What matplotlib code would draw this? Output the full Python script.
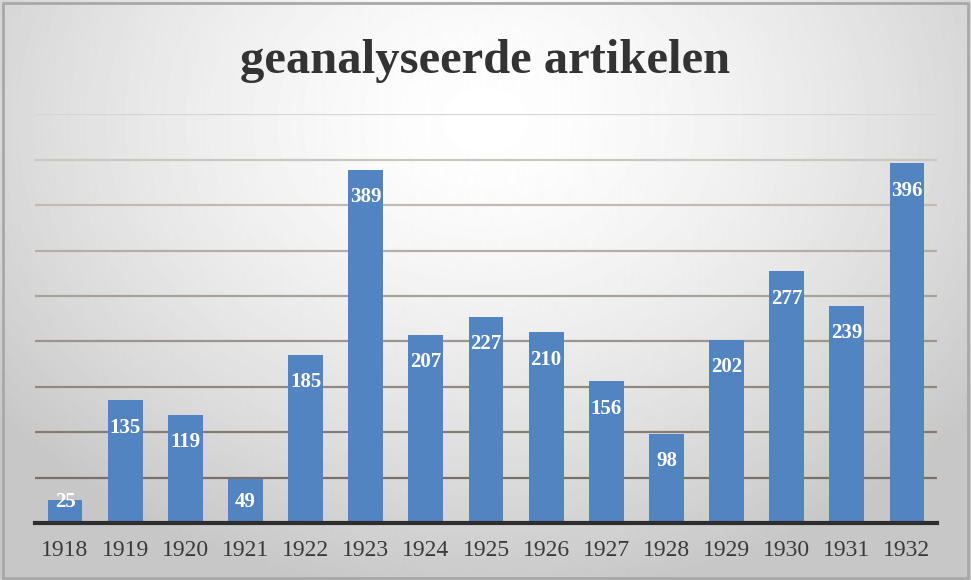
import numpy as np
import matplotlib
matplotlib.use("Agg")
import matplotlib.pyplot as plt

years = ["1918", "1919", "1920", "1921", "1922", "1923", "1924", "1925",
         "1926", "1927", "1928", "1929", "1930", "1931", "1932"]
articles = [25, 135, 119, 49, 185, 389, 207, 227, 210, 156, 98, 202, 277, 239, 396]
title = "geanalyseerde artikelen"

fig = plt.figure(figsize=(9.71, 5.8), dpi=100)

# radial grey background
bg = fig.add_axes([0, 0, 1, 1], zorder=0)
yy, xx = np.mgrid[0:580, 0:971]
r = np.sqrt(((xx - 485) / 620.0) ** 2 + ((yy - 120) / 480.0) ** 2)
shade = np.clip(1.0 - 0.22 * r ** 1.5, 0.78, 1.0)
bg.imshow(shade, cmap="gray", vmin=0, vmax=1, aspect="auto", extent=[0, 1, 0, 1])
bg.plot([0.003, 0.997, 0.997, 0.003, 0.003], [0.003, 0.003, 0.995, 0.995, 0.003],
        color="#a8a8a8", lw=2)
bg.set_xlim(0, 1)
bg.set_ylim(0, 1)
bg.axis("off")

ax = fig.add_axes([0.036, 0.098, 0.929, 0.705], zorder=1)
ax.patch.set_alpha(0)
x = np.arange(len(years))
ax.bar(x, articles, width=0.58, color="#5384c2", zorder=3)

for xi, v in zip(x, articles):
    ax.text(xi, max(v - 30, 23), str(v), ha="center", va="center",
            color="white", fontsize=15, fontweight="bold",
            family="Liberation Serif", zorder=4)

ax.set_xlim(-0.5, len(years) - 0.5)
ax.set_ylim(0, 450)

# grid lines fade from dark at the bottom to light at the top
levels = np.arange(50, 451, 50)
for g in levels:
    t = (g - 50) / 400.0
    c = (0.47 + 0.38 * t, 0.44 + 0.39 * t, 0.41 + 0.40 * t)
    ax.axhline(g, color=c, lw=1.6, zorder=1)

ax.set_yticks([])
ax.set_xticks(x)
ax.set_xticklabels(years, fontsize=17, family="Liberation Serif", color="#3a3a3a")
ax.tick_params(axis="x", length=0, pad=12)
for s in ["top", "right", "left"]:
    ax.spines[s].set_visible(False)
ax.spines["bottom"].set_color("#2e2e2e")
ax.spines["bottom"].set_linewidth(3)
ax.spines["bottom"].set_zorder(5)

fig.text(0.5, 0.895, title, ha="center", va="center", fontsize=35,
         fontweight="bold", family="Liberation Serif", color="#333333")

fig.savefig("out.png", dpi=100)
